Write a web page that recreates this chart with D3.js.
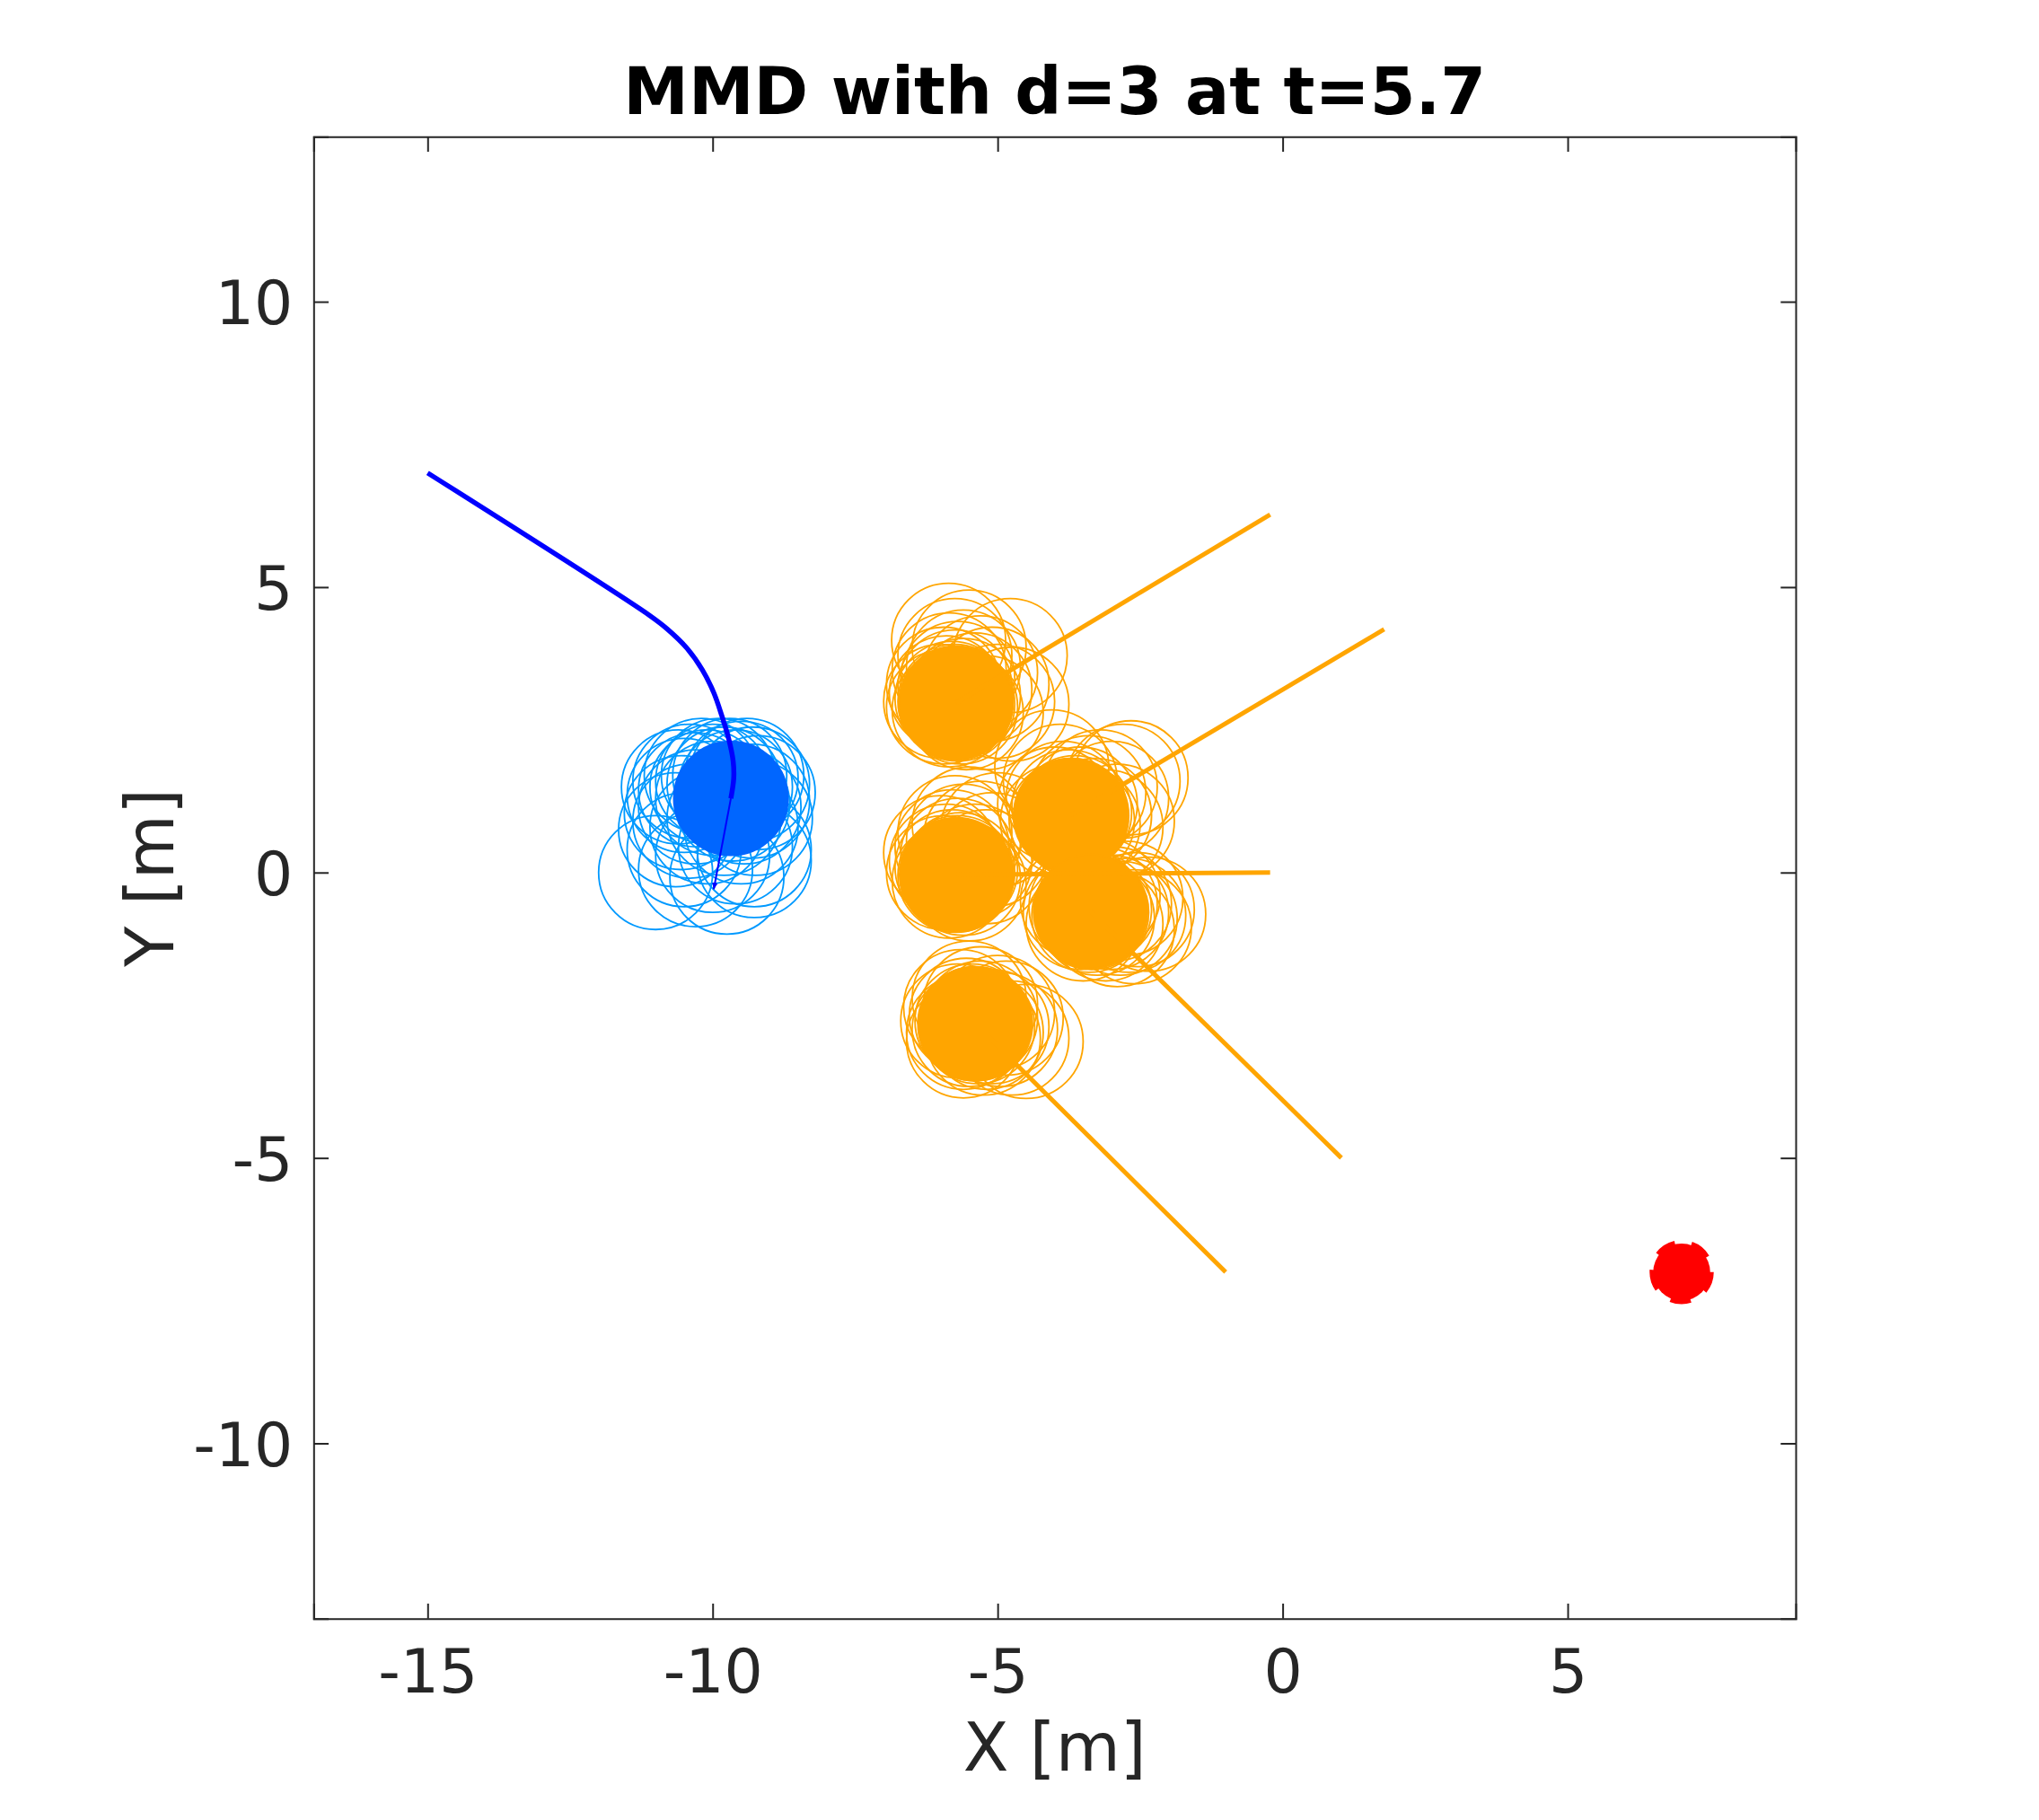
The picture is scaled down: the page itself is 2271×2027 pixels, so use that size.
<!DOCTYPE html>
<html>
<head>
<meta charset="utf-8">
<script src="https://cdn.jsdelivr.net/npm/d3@7"></script>
<style>
  body { margin: 0; background: #fff; }
  text { font-family: "DejaVu Sans", sans-serif; }
</style>
</head>
<body>
<div id="chart"></div>
<script>
const WIDTH = 2271;
const HEIGHT = 2027;
const RADIUS = 1; // agent radius [m]

// axis setup
const xTicks = [-15, -10, -5, 0, 5];
const yTicks = [-10, -5, 0, 5, 10];
const xDomain = [-17, 9];
const yDomain = [-13.07, 12.89];

// robot (blue) trajectory so far
const robotPath = [
  [-15, 7], [-11.1, 4.5], [-10.8, 4.27], [-10.45, 3.93], [-10.18, 3.55],
  [-9.98, 3.15], [-9.84, 2.75], [-9.72, 2.35], [-9.64, 1.95], [-9.63, 1.65],
  [-9.68, 1.3]
];
const robotNow = [-9.68, 1.3];
const robotArrowTip = [-9.98, -0.29];

// sampled robot positions (light blue rings)
const robotSamples = [
  [-10.6, 1.5], [-10.5, 1.35], [-10.4, 1.6], [-10.3, 1.45], [-10.2, 1.7],
  [-10.1, 1.5], [-10.0, 1.6], [-9.9, 1.7], [-9.8, 1.55], [-9.7, 1.7],
  [-9.6, 1.5], [-9.5, 1.65], [-9.4, 1.7], [-9.3, 1.55], [-9.2, 1.4],
  [-9.3, 1.25], [-9.45, 1.15], [-9.65, 1.2], [-10.0, 1.3], [-10.3, 1.15],
  [-10.55, 1.05], [-10.4, 0.9], [-10.1, 0.8], [-9.8, 0.95], [-9.5, 0.8],
  [-9.25, 0.95], [-10.65, 0.75], [-11.0, 0.0], [-10.3, 0.05], [-9.75, -0.08],
  [-9.27, 0.21], [-9.27, 0.4], [-10.5, 0.4], [-10.0, 0.3], [-9.6, 0.45]
];

// pedestrians (orange): start and current positions
const pedStart = [[-0.22, 6.27], [1.78, 4.26], [-0.22, 0.0], [1.03, -5.0], [-1.0, -7.0]];
const pedNow = [[-5.73, 2.97], [-3.72, 1.0], [-5.72, -0.04], [-3.37, -0.68], [-5.39, -2.65]];

// sampled pedestrian positions (orange rings), one list per pedestrian
const pedSamples1 = [
  [-5.75, 3.0], [-5.7, 2.95], [-5.8, 3.05], [-5.65, 2.9], [-5.85, 2.85],
  [-5.6, 3.1], [-5.9, 3.15], [-5.75, 3.25], [-5.55, 2.8], [-5.95, 2.9],
  [-5.7, 3.4], [-5.85, 3.55], [-5.6, 3.6], [-5.75, 3.8], [-5.5, 3.95],
  [-5.86, 4.07], [-5.3, 3.5], [-5.1, 3.3], [-4.78, 3.8], [-5.0, 3.0],
  [-5.2, 2.8], [-5.4, 3.2], [-6.0, 3.0], [-5.95, 3.3], [-4.75, 2.95]
];
const pedSamples2 = [
  [-3.7, 1.0], [-3.65, 1.05], [-3.8, 0.95], [-3.6, 0.9], [-3.75, 1.15],
  [-3.55, 1.2], [-3.85, 1.3], [-3.5, 0.85], [-3.4, 1.4], [-3.2, 1.5],
  [-3.0, 1.3], [-2.8, 1.6], [-2.66, 1.66], [-3.9, 1.6], [-4.05, 1.85],
  [-3.3, 1.0], [-3.1, 0.8], [-3.95, 0.9], [-4.0, 1.2], [-2.9, 0.9]
];
const pedSamples3 = [
  [-5.7, 0.0], [-5.75, -0.05], [-5.65, 0.05], [-5.8, 0.1], [-5.6, -0.1],
  [-5.85, -0.15], [-5.9, 0.2], [-5.7, 0.3], [-5.8, 0.45], [-5.6, 0.55],
  [-5.75, 0.7], [-5.5, 0.85], [-5.3, 0.6], [-5.1, 0.4], [-5.0, 0.75],
  [-5.4, 0.2], [-5.95, 0.0], [-6.0, 0.35], [-5.5, -0.2], [-5.2, 0.1]
];
const pedSamples4 = [
  [-3.35, -0.7], [-3.3, -0.65], [-3.4, -0.75], [-3.25, -0.8], [-3.45, -0.6],
  [-3.2, -0.55], [-3.0, -0.7], [-2.85, -0.8], [-2.7, -0.75], [-2.55, -0.65],
  [-2.35, -0.73], [-3.1, -0.9], [-2.9, -1.0], [-3.5, -0.9], [-3.6, -0.5],
  [-3.15, -0.4], [-2.75, -0.45], [-3.55, -0.7], [-2.6, -0.95], [-2.95, -0.55]
];
const pedSamples5 = [
  [-5.4, -2.65], [-5.45, -2.6], [-5.35, -2.7], [-5.5, -2.75], [-5.3, -2.55],
  [-5.55, -2.5], [-5.6, -2.8], [-5.2, -2.8], [-5.1, -2.7], [-4.95, -2.75],
  [-4.75, -2.9], [-4.5, -2.96], [-5.3, -2.3], [-5.5, -2.2], [-5.65, -2.35],
  [-5.0, -2.45], [-5.6, -2.95], [-4.85, -2.55], [-5.25, -2.9], [-5.7, -2.6]
];
const goal = [7, -7];

const BLUE_LINE = "#0000ff";
const BLUE_FILL = "#0066ff";
const BLUE_RING = "#0099ff";
const ORANGE = "#ffa500";
const AXIS = "#262626";

const margin = { left: 349.3, top: 152.3, right: 271, bottom: 224.3 };
const plotW = WIDTH - margin.left - margin.right;
const plotH = HEIGHT - margin.top - margin.bottom;

const svg = d3.select("#chart")
  .append("svg")
  .attr("width", WIDTH)
  .attr("height", HEIGHT);

const x = d3.scaleLinear().domain(xDomain).range([0, plotW]);
const y = d3.scaleLinear().domain(yDomain).range([plotH, 0]);
const rPx = x(RADIUS) - x(0);

const g = svg.append("g")
  .attr("transform", `translate(${margin.left},${margin.top})`);

g.append("clipPath").attr("id", "clip")
  .append("rect").attr("width", plotW).attr("height", plotH);

const plot = g.append("g").attr("clip-path", "url(#clip)");

// light rings first
function rings(data, color) {
  plot.append("g").selectAll("circle")
    .data(data)
    .enter().append("circle")
    .attr("cx", d => x(d[0]))
    .attr("cy", d => y(d[1]))
    .attr("r", rPx)
    .attr("fill", "none")
    .attr("stroke", color)
    .attr("stroke-width", 1.8);
}
rings(robotSamples, BLUE_RING);
[pedSamples1, pedSamples2, pedSamples3, pedSamples4, pedSamples5]
  .forEach(s => rings(s, ORANGE));

// filled bodies
plot.append("circle")
  .attr("cx", x(robotNow[0])).attr("cy", y(robotNow[1]))
  .attr("r", rPx)
  .attr("fill", BLUE_FILL)
  .attr("stroke", BLUE_FILL)
  .attr("stroke-width", 2);

plot.append("g").selectAll("circle")
  .data(pedNow)
  .enter().append("circle")
  .attr("cx", d => x(d[0]))
  .attr("cy", d => y(d[1]))
  .attr("r", rPx)
  .attr("fill", ORANGE)
  .attr("stroke", ORANGE)
  .attr("stroke-width", 2);

// pedestrian tracks
plot.append("g").selectAll("line")
  .data(pedStart.map((s, i) => [s, pedNow[i]]))
  .enter().append("line")
  .attr("x1", d => x(d[0][0])).attr("y1", d => y(d[0][1]))
  .attr("x2", d => x(d[1][0])).attr("y2", d => y(d[1][1]))
  .attr("stroke", ORANGE)
  .attr("stroke-width", 5);

// robot track
const line = d3.line()
  .x(d => x(d[0]))
  .y(d => y(d[1]))
  .curve(d3.curveCatmullRom);

plot.append("path")
  .datum(robotPath)
  .attr("d", line)
  .attr("fill", "none")
  .attr("stroke", BLUE_LINE)
  .attr("stroke-width", 5.5);

// velocity arrow
svg.append("defs").append("marker")
  .attr("id", "arrow")
  .attr("viewBox", "0 0 10 10")
  .attr("refX", 9).attr("refY", 5)
  .attr("markerWidth", 4).attr("markerHeight", 4)
  .attr("orient", "auto")
  .append("path")
  .attr("d", "M0,1 L10,5 L0,9 Z")
  .attr("fill", BLUE_LINE);

plot.append("line")
  .attr("x1", x(robotNow[0])).attr("y1", y(robotNow[1]))
  .attr("x2", x(robotArrowTip[0])).attr("y2", y(robotArrowTip[1]))
  .attr("stroke", BLUE_LINE)
  .attr("stroke-width", 2)
  .attr("marker-end", "url(#arrow)");

// goal
plot.append("circle")
  .attr("cx", x(goal[0])).attr("cy", y(goal[1]))
  .attr("r", rPx * 0.5)
  .attr("fill", "#ff0000")
  .attr("stroke", "#ff0000")
  .attr("stroke-width", 8)
  .attr("stroke-dasharray", "22,18");

// axes (ticks inside, on all four sides)
const tickLen = 16.7;
const fmt = d => String(d);

const xBottom = g.append("g")
  .attr("transform", `translate(0,${plotH})`)
  .call(d3.axisBottom(x).tickValues(xTicks).tickSize(-tickLen).tickPadding(0).tickFormat(fmt));
const xTop = g.append("g")
  .call(d3.axisTop(x).tickValues(xTicks).tickSize(-tickLen).tickFormat(""));
const yLeft = g.append("g")
  .call(d3.axisLeft(y).tickValues(yTicks).tickSize(-tickLen).tickPadding(0).tickFormat(fmt));
const yRight = g.append("g")
  .attr("transform", `translate(${plotW},0)`)
  .call(d3.axisRight(y).tickValues(yTicks).tickSize(-tickLen).tickFormat(""));

[xBottom, xTop, yLeft, yRight].forEach(a => {
  a.select(".domain").attr("stroke", AXIS).attr("stroke-width", 2);
  a.selectAll(".tick line").attr("stroke", AXIS).attr("stroke-width", 2);
});

xBottom.selectAll(".tick text")
  .attr("fill", AXIS)
  .attr("font-size", 68)
  .attr("font-family", "DejaVu Sans")
  .attr("dy", null)
  .attr("y", 1885 - margin.top - plotH);

yLeft.selectAll(".tick text")
  .attr("fill", AXIS)
  .attr("font-size", 68)
  .attr("font-family", "DejaVu Sans")
  .attr("x", -23)
  .attr("dy", "0.36em");

// labels
svg.append("text")
  .attr("x", margin.left + plotW / 2)
  .attr("y", 127)
  .attr("text-anchor", "middle")
  .attr("font-size", 73)
  .attr("font-weight", "bold")
  .attr("fill", "#000")
  .text("MMD with d=3 at t=5.7");

svg.append("text")
  .attr("x", margin.left + plotW / 2)
  .attr("y", 1972)
  .attr("text-anchor", "middle")
  .attr("font-size", 74)
  .attr("fill", AXIS)
  .text("X [m]");

svg.append("text")
  .attr("transform", `translate(193,${margin.top + plotH / 2}) rotate(-90)`)
  .attr("text-anchor", "middle")
  .attr("font-size", 74)
  .attr("fill", AXIS)
  .text("Y [m]");
</script>
</body>
</html>
